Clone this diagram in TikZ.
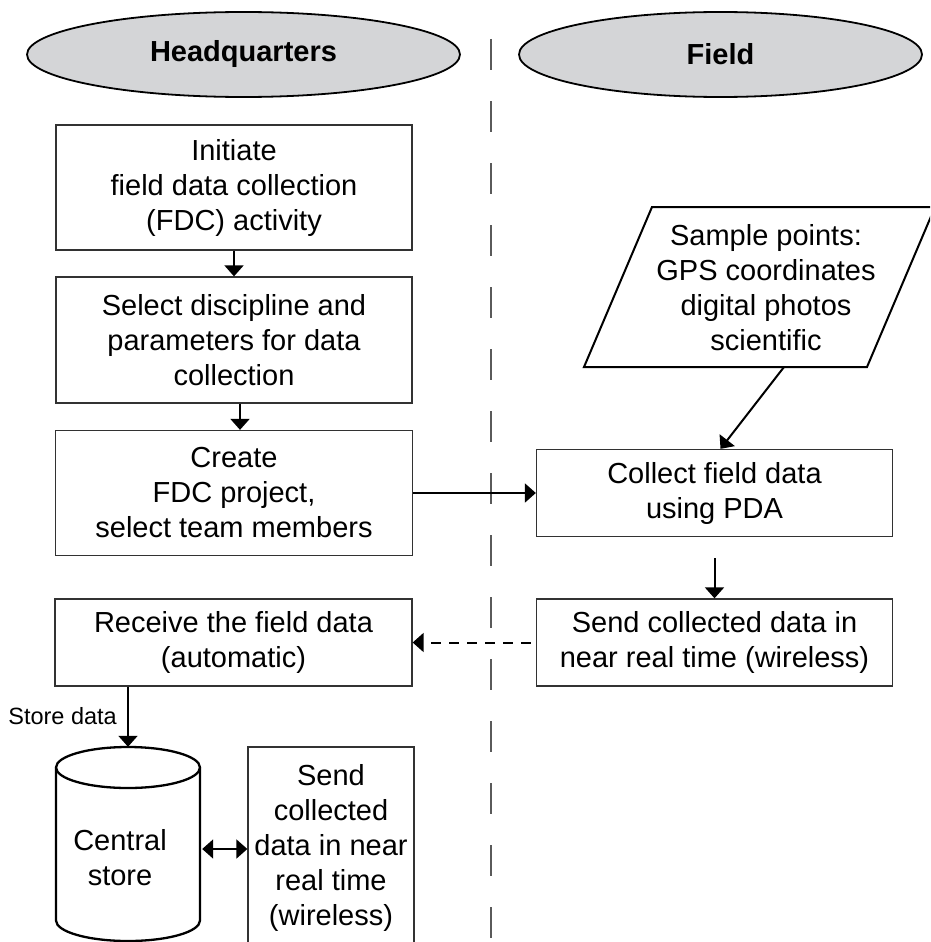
\documentclass[tikz,border=0pt]{standalone}
\usepackage{fontspec}
\setmainfont{Liberation Sans}
\usetikzlibrary{arrows.meta,shapes.geometric}
\definecolor{hdrgray}{RGB}{212,213,215}
\definecolor{boxline}{RGB}{50,50,50}
\definecolor{laneline}{RGB}{90,90,90}
\begin{document}
\begin{tikzpicture}[x=1pt,y=-1pt,
  every node/.style={font=\fontsize{29pt}{35pt}\selectfont, align=center, inner sep=0pt},
  hdr/.style={ellipse, draw=black, line width=1.8pt, fill=hdrgray,
              font=\fontsize{29pt}{35pt}\selectfont\bfseries},
  stepbox/.style={rectangle, draw=boxline, line width=1.3pt},
  arr/.style={draw=black, line width=2pt, -{Triangle[length=11pt,width=19pt]}},
  dbl/.style={draw=black, line width=2pt, {Triangle[length=11pt,width=19pt]}-{Triangle[length=11pt,width=19pt]}},
  dasharr/.style={arr, dash pattern=on 10pt off 8pt},
  lane/.style={draw=laneline, line width=2pt, dash pattern=on 31pt off 31pt},
  shapeline/.style={draw=black, line width=2pt},
  smalltext/.style={font=\fontsize{23.5pt}{28pt}\selectfont}
]
\useasboundingbox (0,0) rectangle (930,942);
\clip (0,0) rectangle (930,942);

% swimlane divider
\draw[lane] (491,39) -- (491,960);

% lane headers
\node[hdr, minimum width=433pt, minimum height=85pt] (hq) at (243.5,54.5) {Headquarters};
\node[hdr, minimum width=403pt, minimum height=85pt] (field) at (720.5,54.5) {Field};

% headquarters steps
\node[stepbox, minimum width=356pt, minimum height=125pt] (init) at (234,187.5)
  {Initiate\\field data collection\\(FDC) activity};
\node[stepbox, minimum width=356pt, minimum height=126pt] (select) at (234,340)
  {Select discipline and\\parameters for data\\collection};
\node[stepbox, minimum width=357pt, minimum height=125pt] (create) at (234,493)
  {Create\\FDC project,\\select team members};
\node[stepbox, minimum width=357pt, minimum height=87pt] (receive) at (233.5,642.5)
  {Receive the field data\\(automatic)};

% field steps
\node[stepbox, minimum width=356pt, minimum height=87pt] (collect) at (714.5,493)
  {Collect field data\\using PDA};
\node[stepbox, minimum width=356pt, minimum height=87pt] (send) at (714.5,642.5)
  {Send collected data in\\near real time (wireless)};

% sample points (parallelogram, cut by the right edge)
\draw[shapeline] (584,367) -- (652,207) -- (935,207) -- (867,367) -- cycle;
\node (sample) at (766,287.5) {Sample points:\\GPS coordinates\\digital photos\\scientific};
\coordinate (sbot) at (784,367);

% central store (cylinder)
\node[minimum width=144pt, minimum height=194pt] (store) at (128,844) {};
\draw[shapeline, line width=2.3pt] (128,767.5) ellipse [x radius=72pt, y radius=20.5pt];
\draw[shapeline, line width=2.3pt] (56,767.5) -- (56,920.5)
  arc[start angle=180, end angle=360, x radius=72pt, y radius=20.5pt] -- (200,767.5);
\node (storetext) at (120,857.5) {Central\\store};

% send box at the bottom (cut by the lower edge)
\node[stepbox, minimum width=166pt, minimum height=201pt] (sendcut) at (331,847.5)
  {Send\\collected\\data in near\\real time\\(wireless)};

% connectors
\draw[arr] (init.south) -- (select.north);
\draw[arr] ([xshift=6pt]select.south) -- ([xshift=6pt]create.north);
\draw[arr] (create.east) -- (collect.west);
\draw[arr] (sbot) -- ([xshift=6pt]collect.north);
\draw[arr] ([yshift=-21pt]collect.south) -- (send.north);
\draw[dasharr] ([xshift=-5pt]send.west) -- (receive.east);
\draw[arr] (receive.south -| store.north) -- (store.north);
\node[smalltext, anchor=east] (storelbl) at (117,716) {Store data};
\coordinate (dy) at (0,849);
\draw[dbl, shorten <=2pt] (store.east |- dy) -- (sendcut.west |- dy);
\end{tikzpicture}
\end{document}
